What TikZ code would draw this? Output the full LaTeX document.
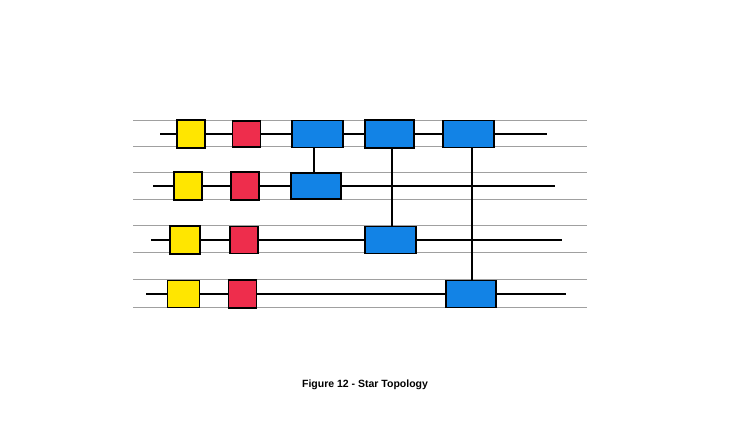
\documentclass[tikz,border=0pt]{standalone}
\usepackage{fontspec}
\newfontfamily\capfont{Liberation Sans}
\definecolor{hy}{HTML}{FFE600}
\definecolor{hr}{HTML}{EE2D4C}
\definecolor{hb}{HTML}{1283E6}
\definecolor{rule}{HTML}{A0A0A0}
\begin{document}
\begin{tikzpicture}[x=1pt,y=-1pt,
  box/.style={draw=black,line width=1.5pt,inner sep=0pt,minimum width=#1},
  yel/.style={box=28pt,fill=hy,minimum height=28pt},
  red/.style={box=28pt,fill=hr,minimum height=27pt},
  blu/.style={box=50pt,fill=hb,minimum height=27pt},
  wire/.style={line width=1.4pt,black},
  ruled/.style={line width=0.6pt,rule}]
\useasboundingbox (0,0) rectangle (731,424);
% ruled paper lines
\foreach \yy in {120,146,172,199,225,252,279,307}
  \draw[ruled] (133,\yy) -- (587,\yy);
% boxes
\node[yel] (y1) at (191,134) {};
\node[yel] (y2) at (188,186) {};
\node[yel,minimum width=30pt] (y3) at (185,240) {};
\node[yel,minimum width=32pt,minimum height=27pt] (y4) at (183.5,294) {};
\node[red,minimum height=26pt] (r1) at (246.5,134) {};
\node[red,minimum height=28pt] (r2) at (245,186) {};
\node[red] (r3) at (244,240) {};
\node[red,minimum height=28pt] (r4) at (242.5,294) {};
\node[blu,minimum width=51pt] (b11) at (317.5,134) {};
\node[blu,minimum height=26pt] (b12) at (316,186) {};
\node[blu,minimum width=49pt,minimum height=28pt] (b21) at (389.5,134) {};
\node[blu,minimum width=51pt] (b23) at (390.5,240) {};
\node[blu,minimum width=51pt] (b31) at (468.5,134) {};
\node[blu] (b34) at (471,294) {};
% free ends
\coordinate (s1) at (160,134);
\coordinate (e1) at (547,134);
\coordinate (s2) at (153,186);
\coordinate (e2) at (555,186);
\coordinate (s3) at (151,240);
\coordinate (e3) at (562,240);
\coordinate (s4) at (146,294);
\coordinate (e4) at (566,294);
% wires
\draw[wire] (s1) -- (y1) -- (r1) -- (b11) -- (b21) -- (b31) -- (e1);
\draw[wire] (s2) -- (y2) -- (r2) -- (b12) -- (e2);
\draw[wire] (s3) -- (y3) -- (r3) -- (b23) -- (e3);
\draw[wire] (s4) -- (y4) -- (r4) -- (b34) -- (e4);
% star links
\draw[wire] ([xshift=-3.5pt]b11.south) -- ([xshift=-3.5pt]b11.south |- b12.north);
\draw[wire] ([xshift=2.5pt]b21.south) -- ([xshift=2.5pt]b21.south |- b23.north);
\draw[wire] ([xshift=3.5pt]b31.south) -- ([xshift=3.5pt]b31.south |- b34.north);
% caption
\node[font=\capfont\bfseries\fontsize{10.5}{12}\selectfont] (cap) at (365,385) {Figure 12 - Star Topology};
\end{tikzpicture}
\end{document}
